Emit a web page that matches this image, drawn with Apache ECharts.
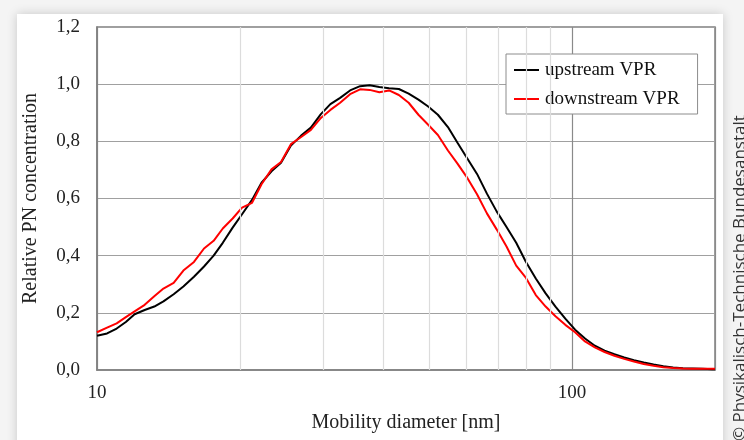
<!DOCTYPE html>
<html><head><meta charset="utf-8">
<script src="https://cdn.jsdelivr.net/npm/echarts@6/dist/echarts.min.js"></script>
<style>html,body{margin:0;padding:0;background:#f4f4f4}#c{width:744px;height:440px}</style>
</head><body><div id="c"></div>
<script>
// Mobility diameter [nm]
const diameters = [10, 10.5, 11, 11.5, 12, 12.6, 13.2, 13.8, 14.5, 15.2, 16, 16.8, 17.6, 18.4, 19.3, 20.2, 21.2, 22.2, 23.3, 24.4, 25.6, 26.9, 28.2, 29.6, 31, 32.5, 34.1, 35.8, 37.5, 39.3, 41.2, 43.2, 45.3, 47.5, 49.8, 52.2, 54.8, 57.4, 60.2, 63.1, 66.2, 69.4, 72.8, 76.3, 80, 83.9, 88, 92.3, 96.8, 101.5, 106.5, 111.7, 117.1, 122.8, 128.8, 135, 141.6, 148.5, 155.7, 163.3, 171.2, 179.5, 188.3, 197.4, 200];
const upstream = [0.120, 0.128, 0.145, 0.168, 0.195, 0.210, 0.222, 0.240, 0.265, 0.292, 0.326, 0.362, 0.400, 0.445, 0.498, 0.545, 0.595, 0.655, 0.695, 0.725, 0.785, 0.820, 0.848, 0.895, 0.930, 0.952, 0.978, 0.993, 0.996, 0.990, 0.986, 0.983, 0.967, 0.946, 0.922, 0.893, 0.850, 0.795, 0.740, 0.686, 0.617, 0.555, 0.500, 0.445, 0.378, 0.320, 0.268, 0.222, 0.180, 0.141, 0.110, 0.085, 0.068, 0.055, 0.044, 0.034, 0.026, 0.019, 0.013, 0.009, 0.006, 0.005, 0.004, 0.003, 0.003];
const downstream = [0.132, 0.148, 0.163, 0.185, 0.205, 0.228, 0.258, 0.285, 0.305, 0.348, 0.378, 0.425, 0.452, 0.495, 0.530, 0.568, 0.585, 0.650, 0.702, 0.728, 0.790, 0.815, 0.840, 0.882, 0.910, 0.935, 0.965, 0.982, 0.980, 0.972, 0.978, 0.962, 0.935, 0.893, 0.858, 0.822, 0.768, 0.722, 0.672, 0.615, 0.548, 0.492, 0.432, 0.365, 0.322, 0.262, 0.222, 0.188, 0.158, 0.132, 0.100, 0.079, 0.063, 0.050, 0.039, 0.030, 0.021, 0.015, 0.010, 0.007, 0.005, 0.004, 0.004, 0.004, 0.004];
const seriesNames = ['upstream VPR', 'downstream VPR'];
const xLabels = [10, 100];
const minorGrid = [20, 30, 40, 50, 60, 70, 80, 90];

const serif = 'Liberation Serif';
const chart = echarts.init(document.getElementById('c'), null, {renderer: 'canvas'});
chart.setOption({
  backgroundColor: '#f4f4f4',
  animation: false,
  graphic: [
    {type: 'rect', z: -10, shape: {x: 17, y: 14, width: 706, height: 440},
     style: {fill: '#ffffff', shadowBlur: 10, shadowColor: 'rgba(0,0,0,0.18)'}},
    {type: 'text', z: 10, x: 740, y: 441, rotation: Math.PI / 2,
     style: {text: '© Physikalisch-Technische Bundesanstalt', font: '17px "Open Sans"', fill: '#333',
             textAlign: 'left', textVerticalAlign: 'middle'}}
  ],
  grid: {left: 97, top: 27, right: 29, bottom: 70, show: true, borderColor: '#808080', borderWidth: 1.5, backgroundColor: 'transparent'},
  legend: {
    data: seriesNames, orient: 'vertical', left: 506, top: 54,
    icon: 'rect', itemWidth: 25, itemHeight: 2, itemGap: 9,
    padding: [6, 18, 5, 8], borderColor: '#8c8c8c', borderWidth: 1, backgroundColor: '#fff',
    textStyle: {fontFamily: serif, fontSize: 19, color: '#111', lineHeight: 20, padding: [0, 0, 0, 1]}
  },
  xAxis: {
    type: 'log', logBase: 10, min: 10, max: 200,
    name: 'Mobility diameter [nm]', nameLocation: 'middle', nameGap: 43,
    nameTextStyle: {fontFamily: serif, fontSize: 20, color: '#222'},
    axisLine: {show: true, lineStyle: {color: '#808080', width: 1.5}},
    axisTick: {show: false},
    axisLabel: {fontFamily: serif, fontSize: 19, color: '#222', margin: 14,
      formatter: v => xLabels.some(t => Math.abs(t - v) < 1e-6) ? String(v) : ''},
    splitLine: {show: true, lineStyle: {color: '#8a8a8a', width: 1.2}}
  },
  yAxis: {
    type: 'value', min: 0, max: 1.2, interval: 0.2,
    name: 'Relative PN concentration', nameLocation: 'middle', nameGap: 56,
    nameTextStyle: {fontFamily: serif, fontSize: 20, color: '#222'},
    axisLine: {show: true, lineStyle: {color: '#808080', width: 1.5}},
    axisTick: {show: false},
    axisLabel: {fontFamily: serif, fontSize: 19, color: '#222', margin: 17,
      formatter: v => v.toFixed(1).replace('.', ',')},
    splitLine: {show: true, lineStyle: {color: '#a0a0a0', width: 1.2}}
  },
  series: [
    {type: 'line', name: 'grid-minor', data: [], z: 0, silent: true,
     markLine: {silent: true, symbol: 'none', label: {show: false},
       lineStyle: {color: '#dcdcdc', type: 'solid', width: 1.2},
       data: minorGrid.map(v => ({xAxis: v}))}},
    {type: 'line', name: seriesNames[0], data: diameters.map((d, i) => [d, upstream[i]]),
     showSymbol: false, symbol: 'none', smooth: false, z: 3,
     lineStyle: {color: '#000000', width: 2}, itemStyle: {color: '#000000'}},
    {type: 'line', name: seriesNames[1], data: diameters.map((d, i) => [d, downstream[i]]),
     showSymbol: false, symbol: 'none', smooth: false, z: 4,
     lineStyle: {color: '#ff0000', width: 2}, itemStyle: {color: '#ff0000'}}
  ]
});
</script>
</body></html>
